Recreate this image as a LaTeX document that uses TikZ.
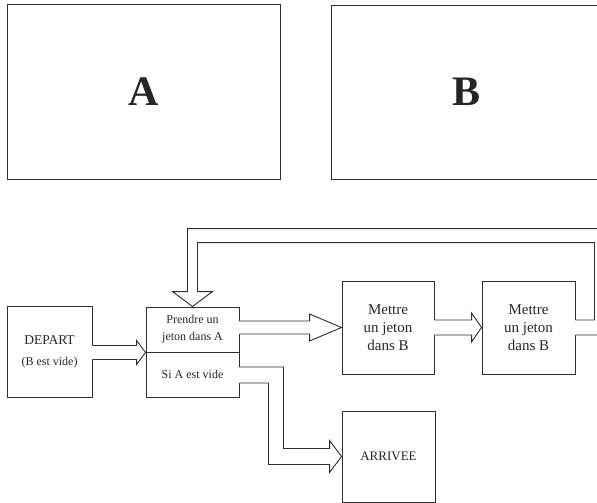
\documentclass[tikz,border=0pt]{standalone}
\usepackage{fontspec}
\setmainfont{Liberation Serif}
\usetikzlibrary{calc}
\newcommand\hblockarrow[5]{%
  \fill[white] ($(#1)+(-1.5,-#3)$) -- ($(#2)+(-#5,-#3)$) -- ($(#2)+(-#5,-#4)$) -- (#2)
     -- ($(#2)+(-#5,#4)$) -- ($(#2)+(-#5,#3)$) -- ($(#1)+(-1.5,#3)$) -- cycle;
  \draw[ln] ($(#1)+(0,-#3)$) -- ($(#2)+(-#5,-#3)$) -- ($(#2)+(-#5,-#4)$) -- (#2)
     -- ($(#2)+(-#5,#4)$) -- ($(#2)+(-#5,#3)$) -- ($(#1)+(0,#3)$);
}
\begin{document}
\begin{tikzpicture}[x=1pt,y=-1pt,line join=miter]
\tikzset{
  ln/.style={draw=black!82, line width=0.9pt},
  box/.style={ln, rectangle, inner sep=0pt, align=center, text=black!85},
  bigtxt/.style={font=\fontsize{42}{42}\selectfont\bfseries},
  mtxt/.style={font=\fontsize{15}{18}\selectfont},
  stxt/.style={font=\fontsize{12}{17}\selectfont},
}
\useasboundingbox (0,0) rectangle (597,503);
\clip (0,0) rectangle (597,503);

% top boxes
\node[box, bigtxt, minimum width=273pt, minimum height=175pt] (A) at (143.5,91.5) {A};
\node[box, bigtxt, minimum width=272pt, minimum height=174pt] (B) at (467,92) {B};

% flowchart boxes
\node[box, minimum width=85pt, minimum height=91pt] (dep) at (49.5,351.5)
  {{\fontsize{13.5}{15}\selectfont DEPART}\\[9pt]{\fontsize{12}{14}\selectfont (B est vide)}};
\node[box, stxt, minimum width=93pt, minimum height=45pt] (prendre) at (192.5,329.5) {Prendre un\\jeton dans A};
\node[box, stxt, minimum width=93pt, minimum height=45pt] (sia) at (192.5,374.5) {Si A est vide};
\node[box, mtxt, minimum width=92pt, minimum height=93pt] (m1) at (388,327.5) {Mettre\\un jeton\\dans B};
\node[box, mtxt, minimum width=93pt, minimum height=93pt] (m2) at (528.5,327.5) {Mettre\\un jeton\\dans B};
\node[box, font=\fontsize{13}{15}\selectfont, minimum width=93pt, minimum height=91pt] (arr) at (388.5,456.5) {ARRIVEE};

% straight block arrows
\coordinate (a1s) at (dep.east|-prendre.south west);
\hblockarrow{a1s}{prendre.south west}{7}{12}{9}
\coordinate (a2s) at (prendre.east|-m1.west);
\hblockarrow{a2s}{m1.west}{6.5}{13.5}{32}
\coordinate (a3s) at (m1.east|-m2.west);
\hblockarrow{a3s}{m2.west}{7.5}{14.5}{10}

% elbow arrow Si A est vide -> ARRIVEE
\coordinate (k4) at ($(sia.east)+(36.5,0)$);
\coordinate (j4) at (k4|-arr.west);
\fill[white] ($(sia.east)+(-1.5,-7.5)$) -- ($(k4)+(7.5,-7.5)$) -- ($(j4)+(7.5,-8)$)
  -- ($(arr.west)+(-12,-8)$) -- ($(arr.west)+(-12,-16)$) -- (arr.west)
  -- ($(arr.west)+(-12,16)$) -- ($(arr.west)+(-12,8)$) -- ($(j4)+(-7.5,8)$)
  -- ($(k4)+(-7.5,8.5)$) -- ($(sia.east)+(-1.5,8.5)$) -- cycle;
\draw[ln] ($(sia.east)+(0,-7.5)$) -- ($(k4)+(7.5,-7.5)$) -- ($(j4)+(7.5,-8)$)
  -- ($(arr.west)+(-12,-8)$) -- ($(arr.west)+(-12,-16)$) -- (arr.west)
  -- ($(arr.west)+(-12,16)$) -- ($(arr.west)+(-12,8)$) -- ($(j4)+(-7.5,8)$)
  -- ($(k4)+(-7.5,8.5)$) -- ($(sia.east)+(0,8.5)$);

% feedback arrow m2 -> prendre
\coordinate (c5) at ($(m2.east)+(27,0)$);
\coordinate (tl) at ($(prendre.north)+(0,-71)$);
\coordinate (tr) at (c5|-tl);
\fill[white] ($(m2.east)+(-1.5,-7.5)$) -- ($(c5)+(-8,-7.5)$) -- ($(tr)+(-8,7)$)
  -- ($(tl)+(5,7)$) -- ($(prendre.north)+(5,-15)$) -- ($(prendre.north)+(20,-15)$)
  -- (prendre.north) -- ($(prendre.north)+(-20,-15)$) -- ($(prendre.north)+(-5,-15)$)
  -- ($(tl)+(-5,-7)$) -- ($(tr)+(8,-7)$) -- ($(c5)+(8,7.5)$)
  -- ($(m2.east)+(-1.5,7.5)$) -- cycle;
\draw[ln] ($(m2.east)+(0,-7.5)$) -- ($(c5)+(-8,-7.5)$) -- ($(tr)+(-8,7)$)
  -- ($(tl)+(5,7)$) -- ($(prendre.north)+(5,-15)$) -- ($(prendre.north)+(20,-15)$)
  -- (prendre.north) -- ($(prendre.north)+(-20,-15)$) -- ($(prendre.north)+(-5,-15)$)
  -- ($(tl)+(-5,-7)$) -- ($(tr)+(8,-7)$) -- ($(c5)+(8,7.5)$)
  -- ($(m2.east)+(0,7.5)$);
\end{tikzpicture}
\end{document}
